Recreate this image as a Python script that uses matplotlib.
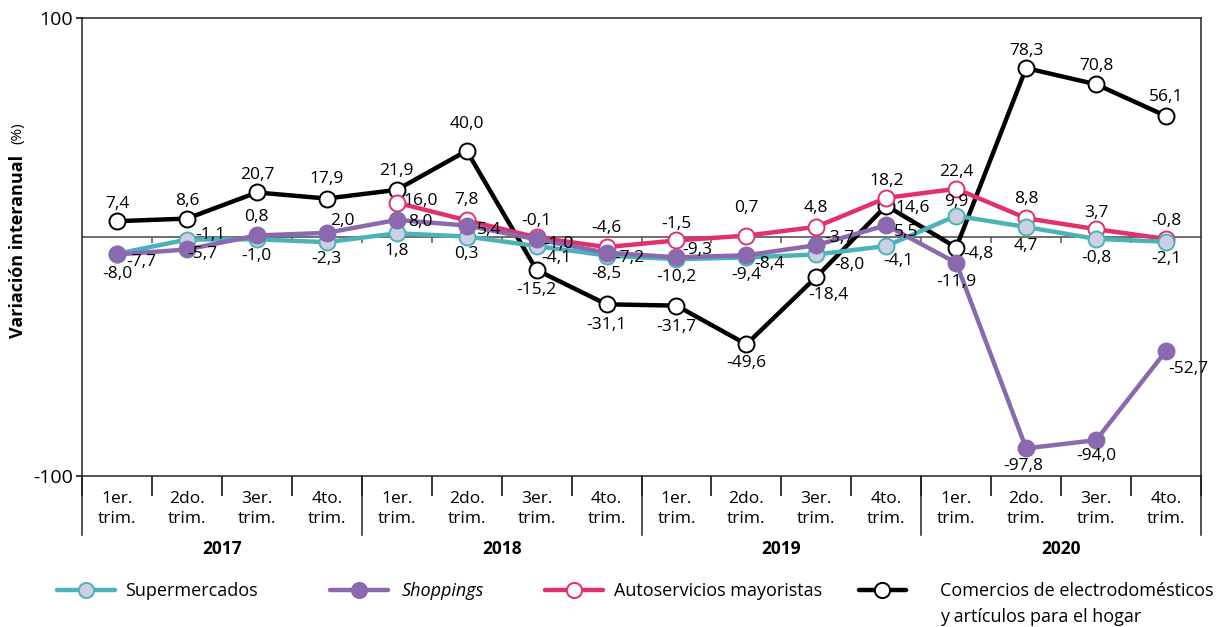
import numpy as np
import matplotlib
matplotlib.use('Agg')
from matplotlib import pyplot as plt
from matplotlib.transforms import blended_transform_factory

plt.rcParams['font.family'] = ['Open Sans', 'DejaVu Sans']

nan = np.nan
quarters = ['1er.\ntrim.', '2do.\ntrim.', '3er.\ntrim.', '4to.\ntrim.'] * 4
years = ['2017', '2018', '2019', '2020']

supermercados = [-7.7, -1.1, -1.0, -2.3, 1.8, 0.3, -4.1, -8.5,
                 -10.2, -9.4, -8.0, -4.1, 9.9, 4.7, -0.8, -2.1]
shoppings = [-8.0, -5.7, 0.8, 2.0, 8.0, 5.4, -1.0, -7.2,
             -9.3, -8.4, -3.7, 5.5, -11.9, -97.8, -94.0, -52.7]
mayoristas = [nan, nan, nan, nan, 16.0, 7.8, -0.1, -4.6,
              -1.5, 0.7, 4.8, 18.2, 22.4, 8.8, 3.7, -0.8]
electro = [7.4, 8.6, 20.7, 17.9, 21.9, 40.0, -15.2, -31.1,
           -31.7, -49.6, -18.4, 14.6, -4.8, 78.3, 70.8, 56.1]

# label offsets in pixels (dx, dy up)
off_super = [(24, -8), (23, 5), (0, -17), (0, -17), (0, -18), (0, -17), (20, -12), (0, -18),
             (0, -18), (0, -18), (33, -11), (12, -15), (0, 14), (0, -19), (0, -19), (0, -17)]
off_shop = [(0, -20), (15, -5), (0, 18), (16, 12), (24, -2), (22, -4), (22, -5), (23, -5),
            (21, 7), (23, -9), (23, 7), (20, -7), (0, -19), (-3, -18), (0, -16), (22, -18)]
off_may = [None] * 4 + [(24, 2), (0, 20), (0, 16), (0, 19), (0, 16), (0, 28), (0, 19), (0, 17),
                        (0, 17), (0, 19), (0, 16), (0, 18)]
off_elec = [(0, 17), (0, 18), (0, 17), (0, 20), (0, 19), (0, 27), (0, -20), (0, -21),
            (0, -21), (0, -19), (12, -18), (26, -2), (22, -6), (0, 17), (0, 18), (0, 19)]

teal = '#4bb3b8'
purple = '#8a69ae'
pink = '#e1306c'

fig = plt.figure(figsize=(12.25, 6.27), dpi=100)
ax = fig.add_axes([82 / 1225, 1 - 476 / 627, 1119 / 1225, 458 / 627])

x = np.arange(16)
ylo, yhi = -110.6, 101.5
ax.set_xlim(-0.5, 15.5)
ax.set_ylim(ylo, yhi)

ax.axhline(0, color='#555555', lw=1.2, zorder=1)
bounds = np.arange(0.5, 15.5, 1)
ax.plot(bounds, np.zeros_like(bounds), ls='none', marker=3, ms=4.5, mew=1.1, color='#555555', zorder=1)

series = [
    (electro, off_elec, 'black', 'white', 'black', 2, 'Comercios de electrodomésticos'),
    (mayoristas, off_may, pink, 'white', pink, 3, 'Autoservicios mayoristas'),
    (supermercados, off_super, teal, '#cdd0e3', teal, 4, 'Supermercados'),
    (shoppings, off_shop, purple, purple, purple, 5, 'Shoppings'),
]
handles = {}
for vals, offs, lc, fc, ec, z, name in series:
    ln, = ax.plot(x, vals, color=lc, lw=3.2, marker='o', ms=11.5, mfc=fc, mec=ec, mew=1.4,
                  zorder=z, solid_capstyle='round')
    handles[name] = ln
    for xi, v, o in zip(x, vals, offs):
        if o is None or np.isnan(v):
            continue
        ax.annotate(f'{v:.1f}'.replace('.', ','), (xi, v), xytext=o, textcoords='offset pixels',
                    ha='center', va='center', fontsize=12.5, zorder=10)

for s in ax.spines.values():
    s.set_color('#222222')
    s.set_linewidth(1.1)

ax.set_yticks([ylo, yhi], ['-100', '100'])
ax.tick_params(axis='y', length=4.5, width=1.1, labelsize=14, pad=2)
ax.set_xticks(x, quarters)
ax.tick_params(axis='x', which='major', length=0, pad=11, labelsize=12.5)
for t in ax.get_xticklabels():
    t.set_linespacing(1.3)
ax.set_xticks(np.arange(-0.5, 16, 1), minor=True)
ax.tick_params(axis='x', which='minor', length=14.5, width=1.1, direction='out')

tr = blended_transform_factory(ax.transData, ax.transAxes)
for b in [-0.5, 3.5, 7.5, 11.5, 15.5]:
    ax.plot([b, b], [0, -59 / 458], transform=tr, color='#222222', lw=1.1, clip_on=False)
for i, yr in enumerate(years):
    ax.text(4 * i + 1.5, -73 / 458, yr, transform=tr, ha='center', va='center',
            fontsize=12.5, fontweight='bold')

fig.text(18 / 1225, 1 - 246 / 627, 'Variación interanual', rotation=90, ha='center', va='center',
         fontsize=13, fontweight='bold')
fig.text(18 / 1225, 1 - 133 / 627, '(%)', rotation=90, ha='center', va='center', fontsize=11)

# name, handle start px, style, handle length, text pad
leg_pos = [('Supermercados', 57, 'normal', 3.2, 0.55), ('Shoppings', 330, 'italic', 3.2, 0.75),
           ('Autoservicios mayoristas', 545, 'normal', 3.2, 0.6),
           ('Comercios de electrodomésticos', 859, 'normal', 2.6, 1.9)]
for name, px, style, hl, hp in leg_pos:
    lg = fig.legend([handles[name]], [name], loc='center left',
                    bbox_to_anchor=(px / 1225, 1 - 591 / 627), frameon=False,
                    fontsize=13, handlelength=hl, handletextpad=hp, borderpad=0,
                    borderaxespad=0, markerscale=0.95)
    for t in lg.get_texts():
        t.set_fontstyle(style)
fig.text(940 / 1225, 1 - 617 / 627, 'y artículos para el hogar', ha='left', va='center', fontsize=13)

fig.savefig('out.png', dpi=100)
